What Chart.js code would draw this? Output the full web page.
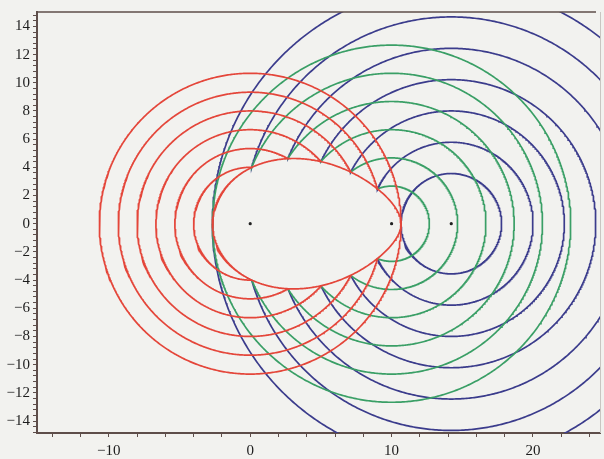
<!DOCTYPE html>
<html>
<head>
<meta charset="utf-8">
<script src="https://cdn.jsdelivr.net/npm/chart.js@4.4.1/dist/chart.umd.min.js"></script>
<style>
  html, body { margin: 0; padding: 0; background: #f2f2ef; }
  #wrap { width: 604px; height: 459px; }
</style>
</head>
<body>
<div id="wrap"><canvas id="c" width="604" height="459"></canvas></div>
<script>
// ---- data ----
// foci of the Cartesian oval (x positions, all on y = 0)
const focusX = [0, 10, 14.22];
const focusY = [0, 0, 0];
// oval:  r1 + ovalRatio * r2 = ovalConst  (r1 from focus 1, r2 from focus 2)
const ovalRatio = 0.667;
const ovalConst = 11.11;
// circle radii of the three families
const redRadii   = [2.67, 4, 5.33, 6.67, 8, 9.33, 10.67];      // about focus 1
const greenRadii = [0.67, 2.67, 4.67, 6.67, 8.67, 10.67, 12.67]; // about focus 2
const blueRadii  = [3.56, 5.78, 8.0, 10.22, 12.44, 14.67, 16.89]; // about focus 3
// axis labels
const xLabels = [-10, 0, 10, 20];
const yLabels = [-14, -12, -10, -8, -6, -4, -2, 0, 2, 4, 6, 8, 10, 12, 14];

// ---- geometry helpers ----
function ovalValue(x, y) {
  return Math.hypot(x - focusX[0], y - focusY[0]) + ovalRatio * Math.hypot(x - focusX[1], y - focusY[1]) - ovalConst;
}
function outside(x, y) { return ovalValue(x, y) >= 0; }

function arcOutside(cx, cy, R, centerAngle) {
  const N = 720;
  const start = centerAngle - Math.PI;
  const pt = t => ({ x: cx + R * Math.cos(t), y: cy + R * Math.sin(t) });
  const flags = [];
  for (let i = 0; i <= N; i++) {
    const p = pt(start + 2 * Math.PI * i / N);
    flags.push(outside(p.x, p.y));
  }
  let first = flags.indexOf(true), last = flags.lastIndexOf(true);
  if (first < 0) return [];
  const pts = [];
  const refine = (tIn, tOut) => {
    for (let k = 0; k < 40; k++) {
      const tm = (tIn + tOut) / 2; const p = pt(tm);
      if (outside(p.x, p.y)) tOut = tm; else tIn = tm;
    }
    return pt(tOut);
  };
  if (first > 0) pts.push(refine(start + 2 * Math.PI * (first - 1) / N, start + 2 * Math.PI * first / N));
  for (let i = first; i <= last; i++) pts.push(pt(start + 2 * Math.PI * i / N));
  if (last < N) pts.push(refine(start + 2 * Math.PI * (last + 1) / N, start + 2 * Math.PI * last / N));
  return pts.length > 2 ? pts : [];
}

function ovalPoints() {
  const N = 720, pts = [];
  for (let i = 0; i <= N; i++) {
    const phi = 2 * Math.PI * i / N;
    let lo = 0, hi = ovalConst;
    for (let k = 0; k < 50; k++) {
      const r = (lo + hi) / 2;
      const v = ovalValue(focusX[0] + r * Math.cos(phi), focusY[0] + r * Math.sin(phi));
      if (v > 0) hi = r; else lo = r;
    }
    const r = (lo + hi) / 2;
    pts.push({ x: focusX[0] + r * Math.cos(phi), y: focusY[0] + r * Math.sin(phi) });
  }
  return pts;
}

const RED = '#e4463a', GREEN = '#3a9f66', BLUE = '#3b3c8c';
const LW = 1.7;
const datasets = [];
datasets.push({ data: focusX.map((x, i) => ({ x: x, y: focusY[i] })), showLine: false,
  pointRadius: 1.6, pointBackgroundColor: '#222', pointBorderWidth: 0, order: 0 });
datasets.push({ data: ovalPoints(), showLine: true, borderColor: RED, borderWidth: LW, pointRadius: 0, order: 1 });
redRadii.forEach(r => datasets.push({ data: arcOutside(focusX[0], focusY[0], r, Math.PI), showLine: true,
  borderColor: RED, borderWidth: LW, pointRadius: 0, order: 2 }));
greenRadii.forEach(r => datasets.push({ data: arcOutside(focusX[1], focusY[1], r, 0), showLine: true,
  borderColor: GREEN, borderWidth: LW, pointRadius: 0, order: 3 }));
blueRadii.forEach(r => datasets.push({ data: arcOutside(focusX[2], focusY[2], r, 0), showLine: true,
  borderColor: BLUE, borderWidth: LW, pointRadius: 0, order: 4 }));

const fmt = v => (v < 0 ? '\u2212' + Math.abs(v) : String(v));
const AXIS = '#5e4e4a';
const TXT = '#1c1c1c';
const tickFont = { family: '"Liberation Serif", "DejaVu Serif", serif', size: 15 };

const framePlugin = {
  id: 'frame',
  afterDraw(chart) {
    const a = chart.chartArea, ctx = chart.ctx;
    ctx.save();
    ctx.strokeStyle = AXIS; ctx.lineWidth = 1.6;
    ctx.beginPath(); ctx.moveTo(a.left, a.top); ctx.lineTo(a.right - 4, a.top); ctx.stroke();
    ctx.strokeStyle = '#c9c6c2'; ctx.lineWidth = 1;
    ctx.beginPath(); ctx.moveTo(a.right + 0.5, a.top); ctx.lineTo(a.right + 0.5, a.bottom); ctx.stroke();
    ctx.restore();
  }
};

new Chart(document.getElementById('c'), {
  type: 'scatter',
  data: { datasets },
  options: {
    responsive: false, animation: false, events: [],
    devicePixelRatio: 1,
    layout: { padding: { top: 7, right: 3, left: 0, bottom: 0 } },
    plugins: { legend: { display: false }, tooltip: { enabled: false } },
    scales: {
      x: {
        type: 'linear', min: -15.08, max: 24.74,
        afterBuildTicks: s => { const t = []; for (let v = -14; v <= 24; v += 2) t.push({ value: v }); s.ticks = t; },
        afterFit: s => { s.height = 26; },
        ticks: { autoSkip: false, maxRotation: 0, font: tickFont, color: TXT, padding: 5,
          callback: v => (xLabels.includes(Math.round(v)) && Math.abs(v - Math.round(v)) < 1e-6 ? fmt(Math.round(v)) : '') },
        grid: { drawOnChartArea: false, drawTicks: true, tickLength: 4, color: AXIS, lineWidth: 1 },
        border: { display: true, color: AXIS, width: 2 }
      },
      y: {
        type: 'linear', min: -14.85, max: 15.02,
        afterBuildTicks: s => { const t = []; for (let k = -37; k <= 37; k++) t.push({ value: Math.round(k * 4) / 10 }); s.ticks = t; },
        afterFit: s => { s.width = 37; },
        ticks: { autoSkip: false, font: tickFont, color: TXT, padding: 3,
          callback: v => { const r = Math.round(v * 10) / 10; return yLabels.includes(r) ? fmt(r) : ''; } },
        grid: { drawOnChartArea: false, drawTicks: true, tickLength: 4, color: AXIS, lineWidth: 1 },
        border: { display: true, color: AXIS, width: 2 }
      }
    }
  },
  plugins: [framePlugin]
});
</script>
</body>
</html>
